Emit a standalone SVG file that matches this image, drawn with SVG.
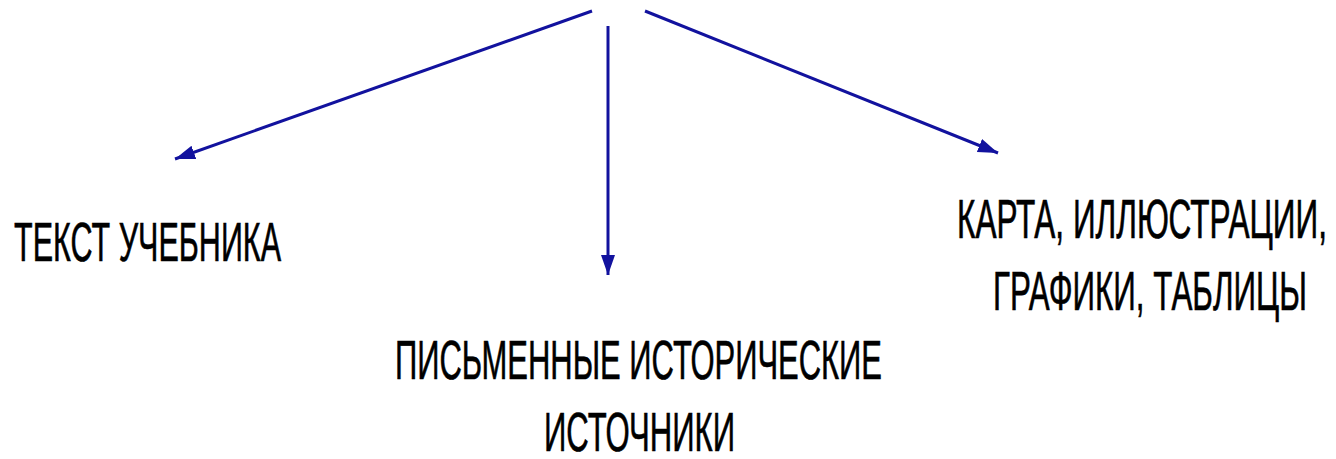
<svg xmlns="http://www.w3.org/2000/svg" width="1336" height="459" viewBox="0 0 1336 459">
  <style>
    .lbl { font-family: "Liberation Sans", Arial, sans-serif; font-size: 34px; fill: #000000; stroke: #000000; stroke-width: 0.4px; }
    .conn { stroke: #12129e; stroke-width: 3; fill: none; marker-end: url(#ah); }
  </style>
  <defs>
    <marker id="ah" markerUnits="userSpaceOnUse" markerWidth="22" markerHeight="16" refX="20" refY="7" orient="auto">
      <path d="M0,0 L20,7 L0,14 Z" fill="#12129e"/>
    </marker>
  </defs>
  <rect width="1336" height="459" fill="#ffffff"/>
  <g id="connectors">
    <line class="conn" x1="592" y1="11" x2="175" y2="159"/>
    <line class="conn" x1="608" y1="26" x2="608" y2="275"/>
    <line class="conn" x1="645" y1="11" x2="998" y2="153"/>
  </g>
  <g id="node-textbook">
    <text class="lbl" transform="translate(14,261) scale(1,1.65)" textLength="267" lengthAdjust="spacingAndGlyphs">ТЕКСТ УЧЕБНИКА</text>
  </g>
  <g id="node-written-sources">
    <text class="lbl" transform="translate(395,379) scale(1,1.65)" textLength="487" lengthAdjust="spacingAndGlyphs">ПИСЬМЕННЫЕ ИСТОРИЧЕСКИЕ</text>
    <text class="lbl" transform="translate(544,451) scale(1,1.65)" textLength="191" lengthAdjust="spacingAndGlyphs">ИСТОЧНИКИ</text>
  </g>
  <g id="node-maps">
    <text class="lbl" style="font-size:31px" transform="translate(957,238) scale(1,1.81)" textLength="370" lengthAdjust="spacingAndGlyphs">КАРТА, ИЛЛЮСТРАЦИИ,</text>
    <text class="lbl" transform="translate(993,310) scale(1,1.65)" textLength="314" lengthAdjust="spacingAndGlyphs">ГРАФИКИ, ТАБЛИЦЫ</text>
  </g>
</svg>
